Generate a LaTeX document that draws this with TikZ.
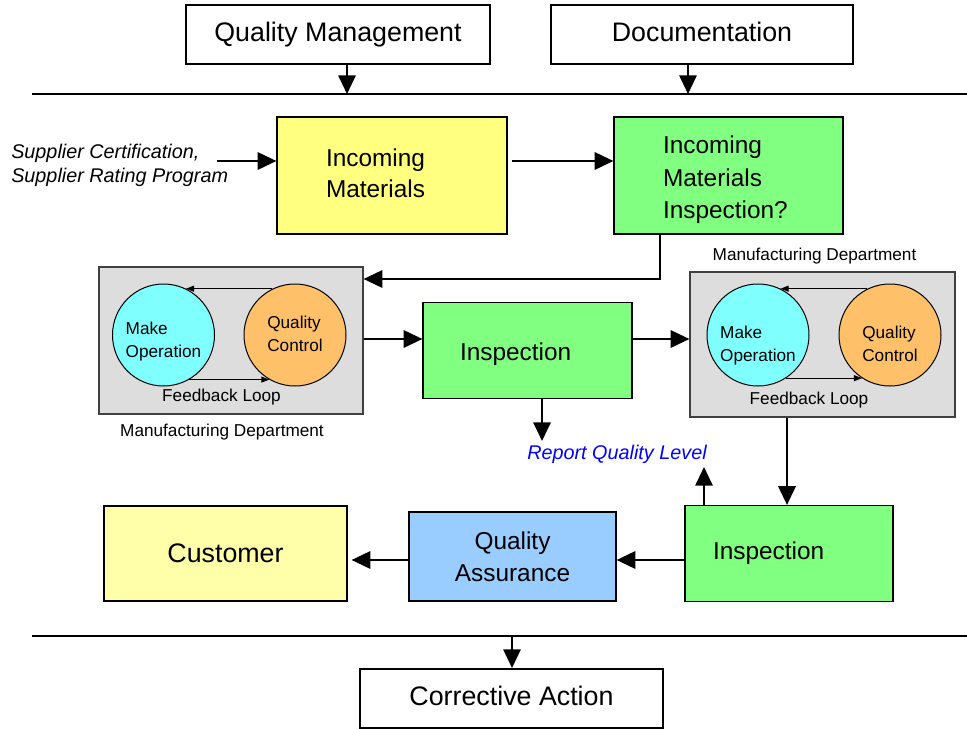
\documentclass[tikz,border=0pt]{standalone}
\usepackage{fontspec}
\setmainfont{Liberation Sans}
\usetikzlibrary{arrows.meta}

% type sizes used in the chart
\newcommand\fsBig{\fontsize{20.1pt}{24pt}\selectfont}
\newcommand\fsMid{\fontsize{18.3pt}{23.5pt}\selectfont}
\newcommand\fsMidLoose{\fontsize{18.3pt}{24.4pt}\selectfont}
\newcommand\fsSmall{\fontsize{12.9pt}{17.5pt}\selectfont}
\newcommand\fsItal{\fontsize{14.85pt}{18pt}\selectfont\itshape}

% extra room above a label, which pushes the label down inside its box
\newcommand\padtop[2]{\raisebox{0pt}[\dimexpr\height+#1\relax][\depth]{#2}}
% stacked lines, left aligned
\newcommand\stackl[1]{\begin{tabular}{@{}l@{}}#1\end{tabular}}

\definecolor{ylw}{HTML}{FFFF80}
\definecolor{grn}{HTML}{80FF80}
\definecolor{cyn}{HTML}{80FFFF}
\definecolor{org}{HTML}{FFC06A}
\definecolor{gry}{HTML}{DDDDDD}
\definecolor{blu}{HTML}{99CCFF}
\definecolor{lyl}{HTML}{FFFFAA}
\definecolor{rptblue}{HTML}{0000FF}

\begin{document}
\begin{tikzpicture}[x=0.75pt,y=-0.75pt,
  every node/.style={inner sep=0pt},
  plain/.style={draw=black, line width=1.5pt, fill=white, font=\fsBig, text height=15.8pt, text depth=5pt},
  block/.style={draw=black, line width=0.9pt},
  panel/.style={draw=black!75, line width=0.9pt, fill=gry},
  disc/.style={circle, draw=black, line width=0.75pt, minimum size=76.5pt, font=\fsSmall},
  flow/.style={line width=1.5pt, -{Triangle[length=14pt,width=13pt]}},
  loop/.style={line width=0.75pt, -{Triangle[length=6pt,width=4.5pt]}},
  rule/.style={line width=1.5pt},
  caption/.style={font=\fsSmall},
]
\useasboundingbox (0,0) rectangle (967,728);
\clip (0,0) rectangle (967,728);

% ---- management inputs ----
\node[plain, minimum width=228pt, minimum height=44.25pt] (qm) at (338,34.5) {Quality Management};
\node[plain, minimum width=226.5pt, minimum height=44.25pt] (doc) at (702,34.5) {Documentation};

\coordinate (ruleTopL) at (32,94);
\coordinate (ruleTopR) at (967,94);
\draw[rule] (ruleTopL) -- (ruleTopR);
\coordinate (qmDrop) at (347,94);
\coordinate (docDrop) at (688,94);
\draw[flow] (qm.south -| qmDrop) -- (qmDrop);
\draw[flow] (doc.south -| docDrop) -- (docDrop);

% ---- incoming materials ----
\node[font=\fsItal, align=left, anchor=west] (sup) at (11,165) {Supplier Certification,\\Supplier Rating Program};
\node[block, fill=ylw, font=\fsMid, align=left, text width=99pt, inner xsep=36.75pt, minimum height=87.75pt] (im) at (392,175.5) {\stackl{Incoming\\Materials}};
\node[block, fill=grn, font=\fsMidLoose, align=left, text width=98.25pt, inner xsep=36.75pt, minimum height=87.75pt] (imi) at (728.5,175.5) {\padtop{6.5pt}{\stackl{Incoming\\Materials\\Inspection?}}};

\coordinate (supOut) at (217,161);
\draw[flow] (supOut) -- (supOut -| im.west);
\draw[flow, shorten <=3pt] (im.east |- supOut) -- (imi.west |- supOut);

% ---- first manufacturing department ----
\node[panel, minimum width=198pt, minimum height=110.25pt] (mfgL) at (231,340.5) {};
\node[disc, fill=cyn] (moL) at (163.5,335) {\padtop{9.75pt}{\stackl{Make\\Operation}}};
\node[disc, fill=org] (qcL) at (295,335) {\stackl{Quality\\Control}};
\draw[loop] (qcL.116) -- (moL.64);
\draw[loop] (moL.-60) -- (qcL.-120);
\node[caption] (fbL) at (221.5,397) {Feedback Loop};
\node[caption] (mdL) at (222,432) {Manufacturing Department};

\coordinate (elbow) at (660,279);
\draw[flow] (imi.south -| elbow) -- (elbow) -- (elbow -| mfgL.east);

% ---- in-process inspection ----
\node[block, fill=grn, font=\fsMid, align=left, text width=101.25pt, inner xsep=27.75pt, minimum height=72pt] (insp1) at (527.5,350.5) {\padtop{6pt}{Inspection}};

% ---- second manufacturing department ----
\node[panel, minimum width=198.75pt, minimum height=108.75pt] (mfgR) at (822.5,344.5) {};
\node[disc, fill=cyn] (moR) at (758,335) {\padtop{15pt}{\stackl{Make\\Operation}}};
\node[disc, fill=org] (qcR) at (890,335) {\padtop{15pt}{\stackl{Quality\\Control}}};
\draw[loop] (qcR.116) -- (moR.64);
\draw[loop] (moR.-57) -- (qcR.-123);
\node[caption] (fbR) at (809,400) {Feedback Loop};
\node[caption] (mdR) at (814.5,256) {Manufacturing Department};

\coordinate (midRow) at (400,339);
\draw[flow] (mfgL.east |- midRow) -- (insp1.west |- midRow);
\draw[flow] (insp1.east |- midRow) -- (mfgR.west |- midRow);

\node[font=\fsItal, text=rptblue] (rql) at (617,454) {Report Quality Level};
\coordinate (repIn) at (542,441);
\draw[flow] (insp1.south -| repIn) -- (repIn);

% ---- final inspection, assurance, customer ----
\node[block, fill=grn, font=\fsMid, align=left, text width=114pt, inner xsep=21pt, minimum height=72pt] (insp2) at (789,553.5) {Inspection};
\node[block, fill=blu, font=\fsMid, align=center, minimum width=155.25pt, minimum height=66.75pt, text depth=0pt] (qa) at (512.5,556.5) {\fontsize{18.3pt}{22.5pt}\selectfont Quality\\Assurance};
\node[block, fill=lyl, font=\fsBig, minimum width=182.25pt, minimum height=71.25pt] (cust) at (225.5,553.5) {Customer};

\coordinate (downCol) at (787,420);
\draw[flow] (mfgR.south -| downCol) -- (insp2.north -| downCol);
\coordinate (repUp) at (704,467);
\draw[flow] (insp2.north -| repUp) -- (repUp);

\coordinate (lowRow) at (650,560);
\draw[flow] (insp2.west |- lowRow) -- (qa.east |- lowRow);
\draw[flow, shorten >=3pt] (qa.west |- lowRow) -- (cust.east |- lowRow);

% ---- corrective action ----
\coordinate (ruleBotL) at (32,636);
\coordinate (ruleBotR) at (967,636);
\draw[rule] (ruleBotL) -- (ruleBotR);
\node[plain, minimum width=227.25pt, minimum height=44.25pt] (ca) at (511.5,698.5) {Corrective Action};
\coordinate (caDrop) at (512,636);
\draw[flow] (caDrop) -- (caDrop |- ca.north);
\end{tikzpicture}
\end{document}
